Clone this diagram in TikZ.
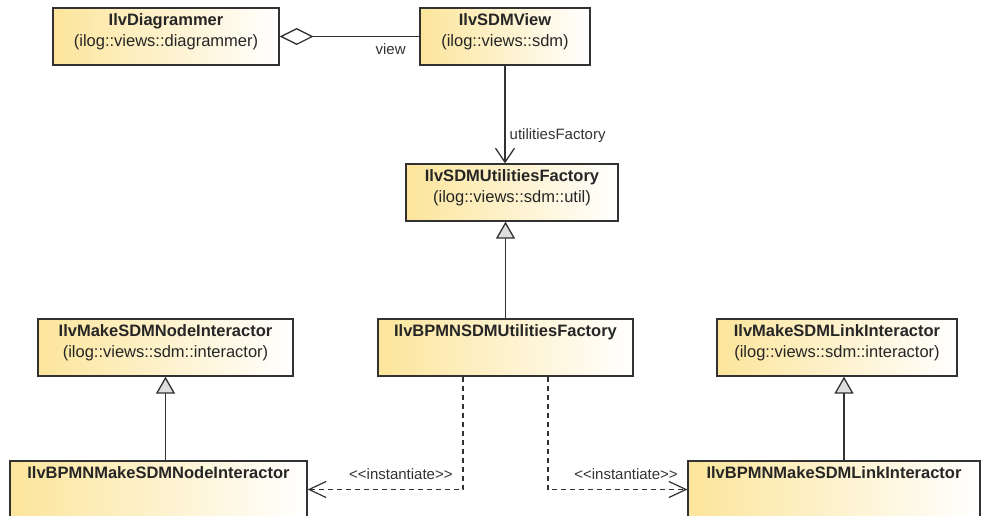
\documentclass[tikz,border=0pt]{standalone}
\usepackage{fontspec}
\setmainfont{Liberation Sans}
\usetikzlibrary{arrows.meta,positioning}
\definecolor{umlyellow}{RGB}{252,229,155}
\definecolor{umlline}{RGB}{50,50,50}
\definecolor{trigray}{RGB}{222,222,222}
\begin{document}
\begin{tikzpicture}[x=1pt, y=-1pt,
  box/.style={draw=umlline, line width=1.3pt, left color=umlyellow, right color=white, inner sep=0pt,
    align=center, font=\fontsize{16.5}{21}\selectfont, text=black!85},
  cls/.style={box, text height=38.5pt, text depth=18.5pt},
  clsone/.style={box, text height=17pt, text depth=40pt},
  lbl/.style={font=\fontsize{15}{18}\selectfont, text=black!80, inner sep=2pt},
  link/.style={draw=umlline, line width=1.4pt},
  agg/.style={link, {Diamond[open, length=34pt, width=17pt, line width=1.3pt]}-},
  assoc/.style={link, -{Straight Barb[length=14pt, width=19pt, line width=1.3pt]}},
  gen/.style={link, -{Triangle[length=17pt, width=19pt, fill=trigray, line width=1.3pt]}},
  inst/.style={link, line width=1.2pt, dash pattern=on 5pt off 4pt, -{Straight Barb[length=17pt, width=16pt, line width=1.2pt]}}]
\path[use as bounding box, clip] (0,0) rectangle (988,515);
\node[cls, minimum width=226pt] (diag) at (166,36.5) {\textbf{IlvDiagrammer}\\(ilog::views::diagrammer)};
\node[cls, minimum width=170pt] (view) at (505,36.5) {\textbf{IlvSDMView}\\(ilog::views::sdm)};
\node[cls, minimum width=212pt] (fact) at (512,192.5) {\textbf{IlvSDMUtilitiesFactory}\\(ilog::views::sdm::util)};
\node[cls, minimum width=255pt] (mknode) at (165.5,347.5) {\textbf{IlvMakeSDMNodeInteractor}\\(ilog::views::sdm::interactor)};
\node[clsone, minimum width=255pt] (bpfact) at (505.5,347.5) {\textbf{IlvBPMNSDMUtilitiesFactory}};
\node[cls, minimum width=240pt] (mklink) at (837,347.5) {\textbf{IlvMakeSDMLinkInteractor}\\(ilog::views::sdm::interactor)};
\node[clsone, minimum width=297pt] (bpnode) at (158.5,489.5) {\textbf{IlvBPMNMakeSDMNodeInteractor}};
\node[clsone, minimum width=292pt] (bplink) at (834,489.5) {\textbf{IlvBPMNMakeSDMLinkInteractor}};
\draw[agg] (diag.east) -- (view.west) node[lbl, pos=1, below left=4pt and 11pt] {view};
\draw[assoc] (view.south) -- (view.south |- fact.north) node[lbl, pos=0.72, right=2pt] {utilitiesFactory};
\draw[gen] (bpfact.north) -- (bpfact.north |- fact.south);
\draw[gen] (mknode.south |- bpnode.north) -- (mknode.south);
\draw[gen] ([xshift=7pt]mklink.south |- bplink.north) -- ([xshift=7pt]mklink.south);
\draw[inst] ([xshift=-42.5pt]bpfact.south) |- (bpnode.east) node[lbl, pos=0.7, above=7pt] {<{}<instantiate>{}>};
\draw[inst] ([xshift=42.5pt]bpfact.south) |- (bplink.west) node[lbl, pos=0.78, above=7pt] {<{}<instantiate>{}>};
\end{tikzpicture}
\end{document}
